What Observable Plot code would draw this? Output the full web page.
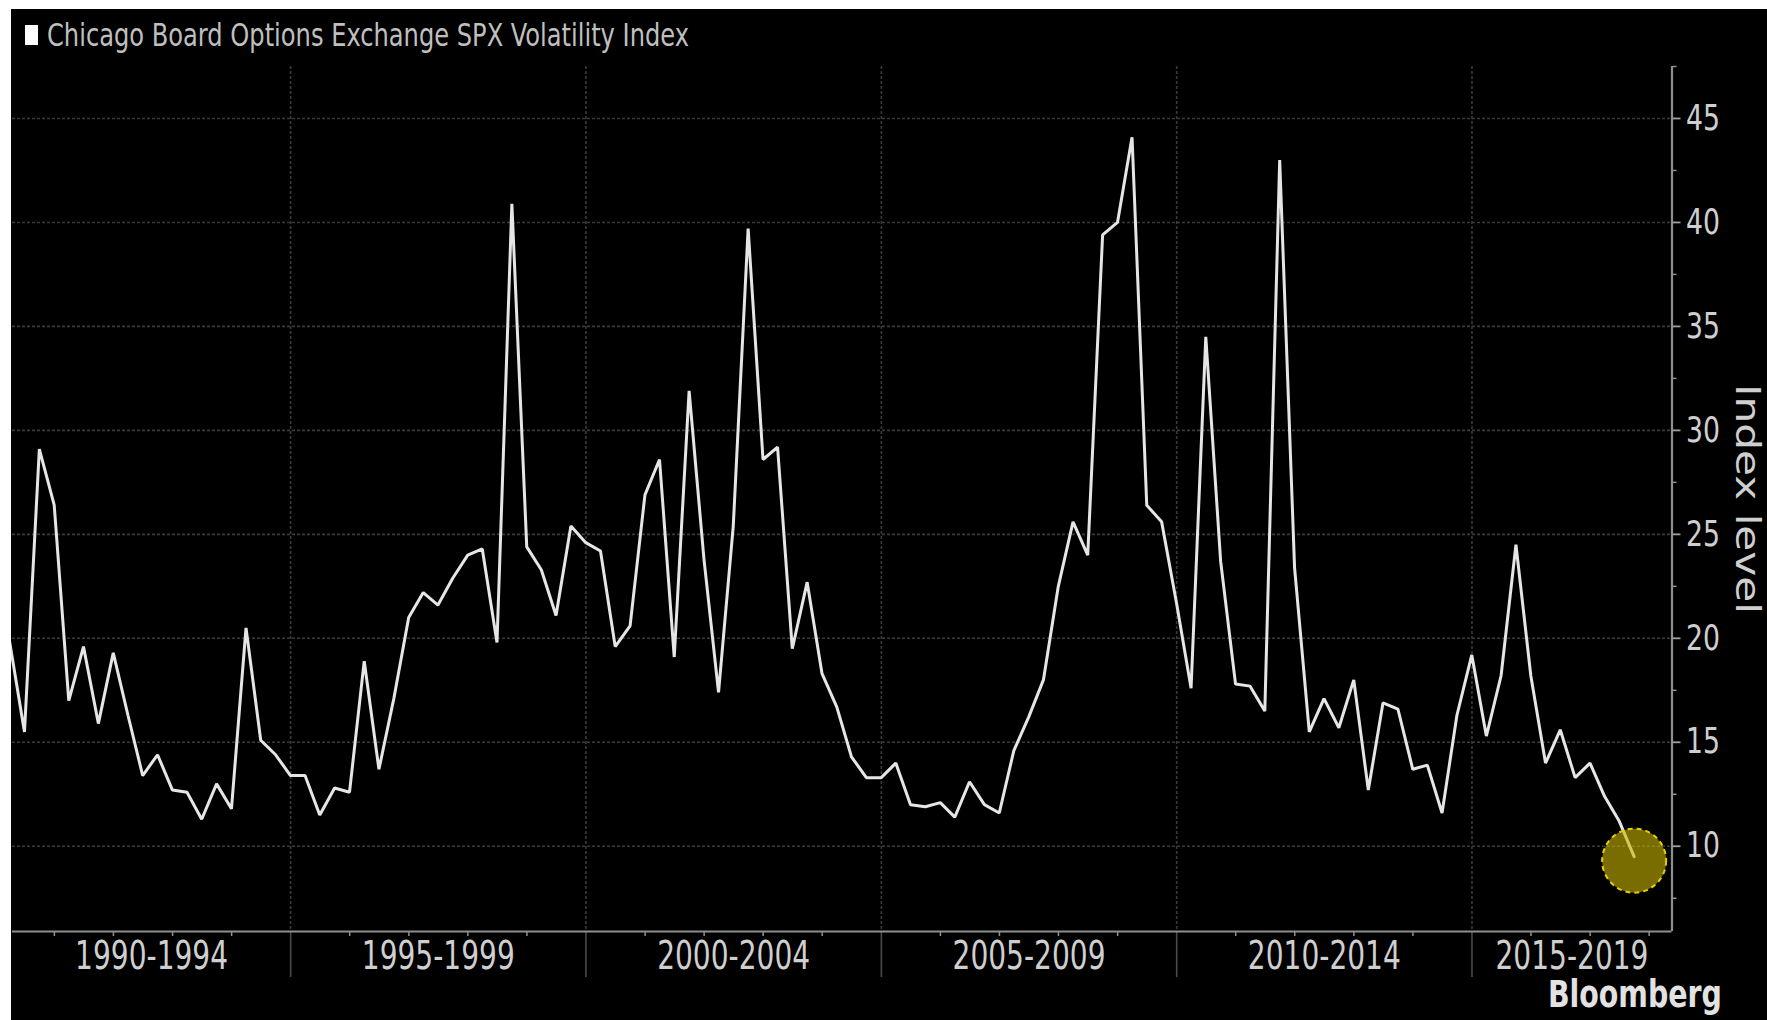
<!DOCTYPE html>
<html>
<head>
<meta charset="utf-8">
<script src="https://cdn.jsdelivr.net/npm/d3@7"></script>
<script src="https://cdn.jsdelivr.net/npm/@observablehq/plot@0.6"></script>
<style>
  html, body { margin: 0; padding: 0; background: #fff; }
  body { width: 1767px; height: 1020px; overflow: hidden; position: relative; }
  #frame { position: absolute; left: 11px; top: 9px; width: 1756px; height: 1011px; background: #000; overflow: hidden; }
  #legend { position: absolute; left: 0; top: 0; width: 1756px; height: 46px; }
  #legend .swatch { position: absolute; left: 14px; top: 16px; width: 13px; height: 20px; background: #fff; }
  #legend .label { position: absolute; left: 36px; top: 10px; font-family: "Liberation Sans Narrow", "DejaVu Sans Condensed", "DejaVu Sans", sans-serif; font-size: 32px; line-height: 32px; color: #bfbfbf; white-space: nowrap; transform-origin: 0 50%; }
  #chart { position: absolute; left: 0; top: 46px; }
  #source { position: absolute; right: 45px; top: 967px; font-family: "Liberation Sans Narrow", "DejaVu Sans Condensed", "DejaVu Sans", sans-serif; font-weight: bold; font-size: 37px; line-height: 37px; color: #e2e2e2; white-space: nowrap; transform-origin: 100% 50%; }
</style>
</head>
<body>
<div id="frame">
  <div id="legend"><span class="swatch"></span><span class="label" id="title"></span></div>
  <div id="chart"></div>
  <div id="source"></div>
</div>
<script>
// Quarter-end closing levels of the VIX
const firstQuarterEnd = { year: 1990, month: 3 };
const vix1990s = [
  19.8, 15.5, 29.1, 26.4,   // 1990
  17.0, 19.6, 15.9, 19.3,   // 1991
  16.3, 13.4, 14.4, 12.7,   // 1992
  12.6, 11.3, 13.0, 11.8,   // 1993
  20.5, 15.1, 14.4, 13.4,   // 1994
  13.4, 11.5, 12.8, 12.6,   // 1995
  18.9, 13.7, 17.1, 21.0,   // 1996
  22.2, 21.6, 22.9, 24.0,   // 1997
  24.3, 19.8, 40.9, 24.4,   // 1998
  23.3, 21.1, 25.4, 24.6    // 1999
];
const vix2000s = [
  24.2, 19.6, 20.6, 26.9,   // 2000
  28.6, 19.1, 31.9, 23.8,   // 2001
  17.4, 25.4, 39.7, 28.6,   // 2002
  29.2, 19.5, 22.7, 18.3,   // 2003
  16.7, 14.3, 13.3, 13.3,   // 2004
  14.0, 12.0, 11.9, 12.1,   // 2005
  11.4, 13.1, 12.0, 11.6,   // 2006
  14.6, 16.2, 18.0, 22.5,   // 2007
  25.6, 24.0, 39.4, 40.0,   // 2008
  44.1, 26.4, 25.6, 21.7    // 2009
];
const vix2010s = [
  17.6, 34.5, 23.7, 17.8,   // 2010
  17.7, 16.5, 43.0, 23.4,   // 2011
  15.5, 17.1, 15.7, 18.0,   // 2012
  12.7, 16.9, 16.6, 13.7,   // 2013
  13.9, 11.6, 16.3, 19.2,   // 2014
  15.3, 18.2, 24.5, 18.2,   // 2015
  14.0, 15.6, 13.3, 14.0,   // 2016
  12.4, 11.2, 9.5           // 2017
];
const periodLabels = ["1990-1994", "1995-1999", "2000-2004", "2005-2009", "2010-2014", "2015-2019"];
const periodStartYears = [1990, 1995, 2000, 2005, 2010, 2015];
const yearTickYears = [1991,1992,1993,1994,1996,1997,1998,1999,2001,2002,2003,2004,2006,2007,2008,2009,2011,2012,2013,2014,2016,2017,2018];
const yTicks = [10, 15, 20, 25, 30, 35, 40, 45];
const yMinorTicks = [7.5, 12.5, 17.5, 22.5, 27.5, 32.5, 37.5, 42.5, 47.5];
const yDomain = [5.9, 47.5];
const xDomain = [new Date(Date.UTC(1990, 3, 17)), new Date(Date.UTC(2018, 4, 22))];
const seriesName = "Chicago Board Options Exchange SPX Volatility Index";
const axisTitle = "Index level";
const sourceName = "Bloomberg";

const values = [...vix1990s, ...vix2000s, ...vix2010s];
const data = values.map((v, i) => ({
  date: new Date(Date.UTC(firstQuarterEnd.year, firstQuarterEnd.month + 3 * i, 0)),
  value: v
}));
const last = data[data.length - 1];

const utcYear = y => new Date(Date.UTC(y, 0, 1));
const sepDates = periodStartYears.slice(1).map(utcYear);
const yearDates = yearTickYears.map(utcYear);
const periodCenters = periodStartYears.map(y => {
  const a = Math.max(+utcYear(y), +xDomain[0]);
  const b = Math.min(+utcYear(y + 5), +xDomain[1]);
  return new Date((a + b) / 2);
});

const narrow = "'Liberation Sans Narrow', 'DejaVu Sans Condensed', 'DejaVu Sans', sans-serif";

const chart = Plot.plot({
  width: 1756,
  height: 965,
  marginTop: 11,
  marginBottom: 89,
  marginLeft: 1,
  marginRight: 95.5,
  style: { background: "#000", color: "#cfcfcf", fontFamily: narrow, overflow: "visible" },
  x: { type: "utc", domain: xDomain, axis: null },
  y: { domain: yDomain, axis: null },
  marks: [
    Plot.gridY(yTicks, { stroke: "#3a3a3a", strokeOpacity: 1, strokeWidth: 1.6, strokeDasharray: "3,2" }),
    Plot.gridX(sepDates, { stroke: "#3a3a3a", strokeOpacity: 1, strokeWidth: 1.6, strokeDasharray: "3,2" }),
    Plot.axisX(sepDates, { tickSize: 46, tickFormat: () => "", label: null, stroke: "#4a4a4a", strokeWidth: 1.6 }),
    Plot.axisX(yearDates, { tickSize: 5, tickFormat: () => "", label: null, stroke: "#909090", strokeWidth: 1.5 }),
    Plot.ruleY([yDomain[0]], { stroke: "#8f8f8f", strokeWidth: 2.2 }),
    Plot.ruleX([xDomain[1]], { stroke: "#8f8f8f", strokeWidth: 2.2 }),
    Plot.axisY(yMinorTicks, { anchor: "right", tickSize: 4, tickFormat: () => "", label: null, stroke: "#909090", strokeWidth: 1.5 }),
    Plot.axisY(yTicks, { anchor: "right", tickSize: 8, tickPadding: 6, label: null, stroke: "#a0a0a0", strokeWidth: 1.8, fill: "#cfcfcf", fontSize: 35, fontFamily: narrow, tickFormat: d => String(d) }),
    Plot.line(data, { x: "date", y: "value", stroke: "#e6e6e6", strokeWidth: 3, strokeLinejoin: "miter", clip: false }),
    Plot.dot([last], { x: "date", y: "value", r: 32, dy: 4, fill: "#c9b400", fillOpacity: 0.6, stroke: "#e6cf00", strokeWidth: 2, strokeDasharray: "5,4" }),
    Plot.text(periodLabels, { x: (d, i) => periodCenters[i], frameAnchor: "bottom", dy: 25, lineAnchor: "middle", textAnchor: "middle", fontSize: 39, fontFamily: narrow, fill: "#cfcfcf" }),
    Plot.text([axisTitle], { frameAnchor: "right", dx: 75, rotate: 90, textAnchor: "middle", lineAnchor: "middle", fontSize: 34, fontFamily: "'DejaVu Sans', sans-serif", fill: "#cfcfcf" })
  ]
});
document.getElementById("chart").appendChild(chart);

// Fit label widths to the reference's condensed lettering
const yTickStrings = yTicks.map(String);
chart.querySelectorAll("text").forEach(t => {
  const s = t.textContent;
  let w = null;
  if (periodLabels.includes(s)) w = 153;
  else if (yTickStrings.includes(s)) w = 17 * s.length;
  else if (s === axisTitle) w = 230;
  if (w != null) {
    t.setAttribute("textLength", w);
    t.setAttribute("lengthAdjust", "spacingAndGlyphs");
  }
});

const titleEl = document.getElementById("title");
titleEl.textContent = seriesName;
const srcEl = document.getElementById("source");
srcEl.textContent = sourceName;
function fitHtml(el, width) {
  const w = el.getBoundingClientRect().width;
  if (w > 0) el.style.transform = `scaleX(${width / w})`;
}
fitHtml(titleEl, 642);
fitHtml(srcEl, 174);
</script>
</body>
</html>
